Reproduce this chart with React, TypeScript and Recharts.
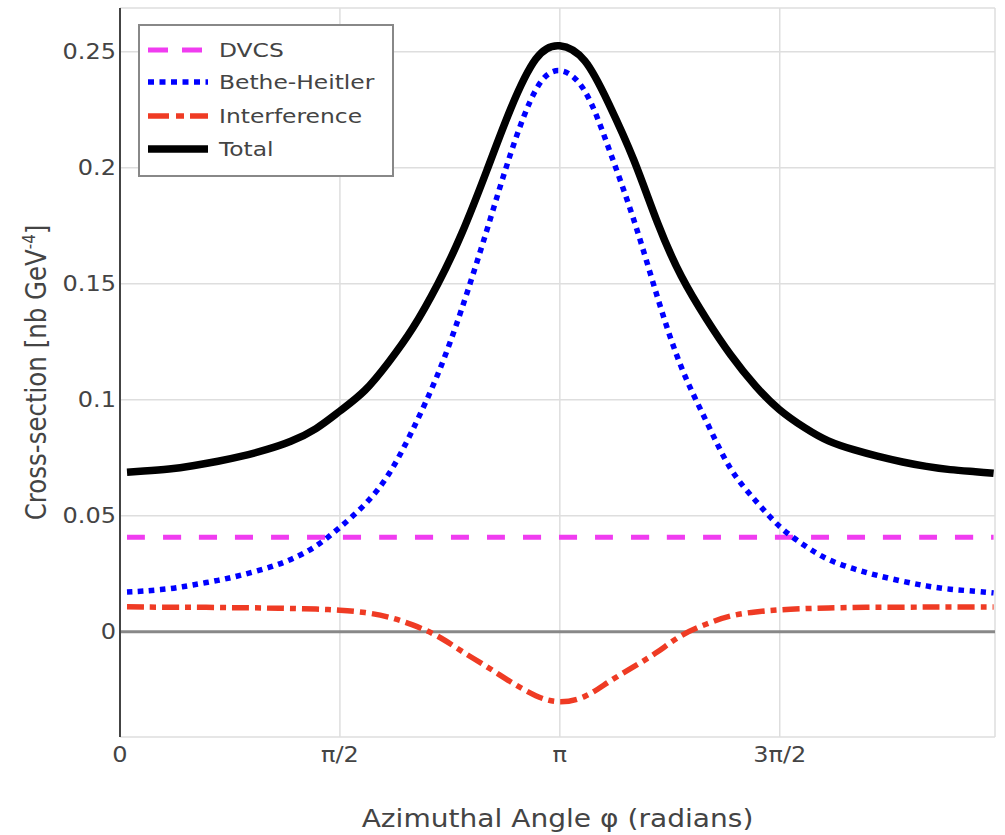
import { CartesianGrid, Label, Legend, Line, LineChart, ReferenceLine, XAxis, YAxis } from "recharts";

// azimuthal angle (rad)
const angles = [
  0.05, 0.17, 0.35, 0.52, 0.7, 0.87, 1.05, 1.22, 1.4, 1.57, 1.75, 1.92, 2.09, 2.27, 2.44, 2.62, 2.79, 2.97, 3.14,
  3.32, 3.49, 3.67, 3.84, 4.01, 4.19, 4.36, 4.54, 4.71, 4.89, 5.06, 5.24, 5.41, 5.59, 5.76, 5.93, 6.11, 6.24,
];

const dvcs = [
  0.0408, 0.0408, 0.0408, 0.0408, 0.0408, 0.0408, 0.0408, 0.0408, 0.0408, 0.0408, 0.0408, 0.0408, 0.0408, 0.0408,
  0.0408, 0.0408, 0.0408, 0.0408, 0.0408, 0.0408, 0.0408, 0.0408, 0.0408, 0.0408, 0.0408, 0.0408, 0.0408, 0.0408,
  0.0408, 0.0408, 0.0408, 0.0408, 0.0408, 0.0408, 0.0408, 0.0408, 0.0408,
];

const betheHeitler = [
  0.0172, 0.0176, 0.0186, 0.0202, 0.0222, 0.0245, 0.0275, 0.0312, 0.037, 0.045, 0.055, 0.068, 0.087, 0.111, 0.139,
  0.173, 0.206, 0.2335, 0.2418, 0.233, 0.2085, 0.1775, 0.144, 0.114, 0.0905, 0.0705, 0.0565, 0.0455, 0.0372, 0.0312,
  0.0272, 0.0243, 0.0218, 0.0198, 0.0184, 0.0175, 0.0168,
];

const interference = [
  0.0108, 0.0107, 0.0106, 0.0106, 0.0105, 0.0104, 0.0103, 0.0101, 0.0098, 0.0093, 0.0083, 0.0063, 0.003, -0.0019,
  -0.0083, -0.015, -0.0215, -0.0275, -0.0301, -0.0278, -0.0216, -0.015, -0.0086, -0.0016, 0.0034, 0.0068, 0.0086,
  0.0095, 0.01, 0.0103, 0.0105, 0.0106, 0.0106, 0.0107, 0.0107, 0.0107, 0.0107,
];

const total = [
  0.0688, 0.0693, 0.0702, 0.0716, 0.0735, 0.0757, 0.0786, 0.0821, 0.0876, 0.0951, 0.1041, 0.1163, 0.1308, 0.1499,
  0.1715, 0.1988, 0.2253, 0.2468, 0.2525, 0.246, 0.2277, 0.2033, 0.1762, 0.1532, 0.1347, 0.1195, 0.1059, 0.0958,
  0.088, 0.0823, 0.0785, 0.0757, 0.0732, 0.0713, 0.0699, 0.069, 0.0683,
];

const xTicks = [0, Math.PI / 2, Math.PI, (3 * Math.PI) / 2];
const xTickLabels = ["0", "π/2", "π", "3π/2"];
const yTicks = [0, 0.05, 0.1, 0.15, 0.2, 0.25];

const data = angles.map((phi, i) => ({
  phi,
  dvcs: dvcs[i],
  bh: betheHeitler[i],
  interference: interference[i],
  total: total[i],
}));

const series = [
  { key: "dvcs", name: "DVCS", color: "#f03cf0", width: 5, dash: "18 18", legendDash: "20 14" },
  { key: "bh", name: "Bethe-Heitler", color: "#0000ff", width: 5.5, dash: "5.5 5.5", legendDash: "6 5.5" },
  { key: "interference", name: "Interference", color: "#ef3b24", width: 5.5, dash: "17 6 6 6", legendDash: "21 7 8 6" },
  { key: "total", name: "Total", color: "#000000", width: 7.5, dash: undefined, legendDash: undefined },
];

const FONT = "DejaVu Sans";
const TEXT = "#444";
const SX = 1.17; // reference text is a bit wide

const XTick = ({ x, y, payload }: any) => {
  const i = xTicks.findIndex((t) => Math.abs(t - payload.value) < 1e-6);
  return (
    <g transform={`translate(${x},${y + 25}) scale(${SX},1)`}>
      <text x={0} y={0} textAnchor="middle" fontFamily={FONT} fontSize={20.5} fill={TEXT}>
        {xTickLabels[i]}
      </text>
    </g>
  );
};

const YTick = ({ x, y, payload }: any) => (
  <g transform={`translate(${x - 4},${y}) scale(${SX},1)`}>
    <text x={0} y={0} dy="0.36em" textAnchor="end" fontFamily={FONT} fontSize={20.5} fill={TEXT}>
      {payload.value === 0 ? "0" : String(payload.value)}
    </text>
  </g>
);

const XTitle = ({ viewBox }: any) => (
  <g transform={`translate(${viewBox.x + viewBox.width / 2},${viewBox.y + 90}) scale(${SX},1)`}>
    <text x={0} y={0} textAnchor="middle" fontFamily={FONT} fontSize={24} fill={TEXT}>
      Azimuthal Angle φ (radians)
    </text>
  </g>
);

const YTitle = ({ viewBox }: any) => (
  <g transform={`translate(${viewBox.x + 35.5},${viewBox.y + viewBox.height / 2}) rotate(-90) scale(1,${SX})`}>
    <text x={0} y={0} dy="0.36em" textAnchor="middle" fontFamily={FONT} fontSize={24.5} fill={TEXT}>
      Cross-section [nb GeV<tspan fontSize={15} dy="-0.6em">-4</tspan>
      <tspan dy="0.4em">]</tspan>
    </text>
  </g>
);

const LegendBox = () => (
  <svg width={256} height={153} style={{ display: "block" }}>
    <rect x={1} y={1} width={254} height={151} fill="#ffffff" stroke="#888888" strokeWidth={2} />
    {series.map((s, i) => {
      const cy = [26, 58, 92, 125][i];
      return (
        <g key={s.key}>
          <line x1={10} x2={70} y1={cy} y2={cy} stroke={s.color} strokeWidth={s.width} strokeDasharray={s.legendDash} />
          <g transform={`translate(81,${cy}) scale(${SX},1)`}>
            <text x={0} y={0} dy="0.36em" fontFamily={FONT} fontSize={20} fill={TEXT}>
              {s.name}
            </text>
          </g>
        </g>
      );
    })}
  </svg>
);

export default function App() {
  return (
    <div style={{ position: "fixed", left: 0, top: 0, background: "#fff" }}>
      <LineChart width={1005} height={835} data={data} margin={{ top: 8, right: 10, left: 0, bottom: 0 }}>
        <CartesianGrid stroke="#dedede" strokeWidth={1.5} />
        <XAxis
          type="number"
          dataKey="phi"
          domain={[0, 6.25]}
          ticks={xTicks}
          interval={0}
          height={98}
          axisLine={false}
          tickLine={false}
          tickSize={0}
          tickMargin={0}
          tick={<XTick />}
          allowDataOverflow
        >
          <Label content={<XTitle />} />
        </XAxis>
        <YAxis
          type="number"
          domain={[-0.0453, 0.2688]}
          ticks={yTicks}
          interval={0}
          width={120}
          axisLine={{ stroke: "#444", strokeWidth: 2 }}
          tickLine={false}
          tickSize={0}
          tickMargin={0}
          tick={<YTick />}
          allowDataOverflow
        >
          <Label content={<YTitle />} />
        </YAxis>
        <ReferenceLine y={0} stroke="#888888" strokeWidth={3} />
        {series.map((s) => (
          <Line
            key={s.key}
            type="natural"
            dataKey={s.key}
            name={s.name}
            stroke={s.color}
            strokeWidth={s.width}
            strokeDasharray={s.dash}
            dot={false}
            activeDot={false}
            isAnimationActive={false}
          />
        ))}
        <Legend
          layout="vertical"
          align="center"
          verticalAlign="middle"
          content={<LegendBox />}
          wrapperStyle={{ left: 138, top: 24, width: 256, height: 153 }}
        />
      </LineChart>
    </div>
  );
}
